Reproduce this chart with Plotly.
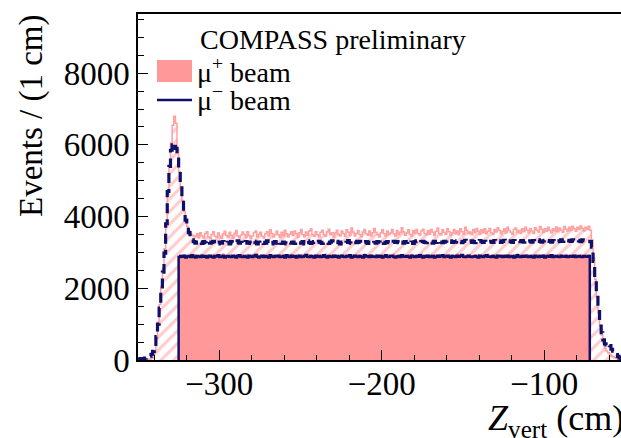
import plotly.graph_objects as go

BIN_WIDTH = 1  # cm per bin

# ---------------- data (events per 1 cm bin) ----------------
# mu+ beam, all vertices (hatched outline)
mu_plus_all_start = -345
mu_plus_all_rise = [10, 20, 30, 40, 60, 200, 600, 1050, 1550, 2050, 2550, 3100, 3800, 4600, 5400,
                    6050, 6550, 6800, 6600, 5900, 5250, 4800, 4450, 4150, 3900, 3720, 3600, 3530, 3480, 3460]
mu_plus_all_plateau = [
    3440, 3520, 3400, 3550, 3460, 3400, 3530, 3580, 3430, 3380, 3500, 3580, 3450, 3410, 3540, 3460, 3390, 3520, 3590, 3470,
    3420, 3560, 3470, 3390, 3530, 3610, 3460, 3400, 3480, 3570, 3500, 3420, 3580, 3470, 3380, 3460, 3550, 3600, 3440, 3510,
    3560, 3450, 3400, 3520, 3580, 3460, 3630, 3530, 3430, 3500, 3590, 3490, 3420, 3560, 3460, 3620, 3520, 3440, 3510, 3580,
    3470, 3600, 3520, 3420, 3550, 3640, 3490, 3440, 3570, 3480, 3600, 3660, 3500, 3450, 3580, 3490, 3430, 3560, 3620, 3500,
    3450, 3580, 3650, 3490, 3550, 3430, 3540, 3620, 3510, 3460, 3600, 3530, 3450, 3630, 3560, 3480, 3680, 3570, 3460, 3530,
    3610, 3500, 3440, 3570, 3640, 3520, 3480, 3600, 3460, 3550, 3670, 3560, 3500, 3430, 3550, 3630, 3520, 3460, 3600, 3500,
    3540, 3640, 3520, 3460, 3610, 3500, 3560, 3690, 3580, 3480, 3540, 3630, 3500, 3460, 3610, 3540, 3640, 3520, 3480, 3600,
    3650, 3530, 3490, 3610, 3510, 3640, 3560, 3470, 3590, 3680, 3530, 3490, 3630, 3560, 3510, 3660, 3580, 3470, 3550, 3640,
    3520, 3600, 3490, 3660, 3580, 3510, 3700, 3620, 3520, 3570, 3490, 3640, 3550, 3670, 3590, 3510, 3630, 3550, 3660, 3520,
    3590, 3670, 3540, 3500, 3640, 3570, 3690, 3610, 3520, 3590, 3660, 3540, 3700, 3610, 3560, 3510, 3640, 3680, 3560, 3610,
    3530, 3660, 3580, 3700, 3620, 3550, 3670, 3600, 3530, 3690, 3620, 3570, 3720, 3640, 3560, 3660, 3590, 3700, 3620, 3550,
    3660, 3600, 3710, 3580, 3680, 3620, 3560, 3720, 3650, 3590, 3700, 3620, 3730, 3660, 3590, 3700, 3640, 3740, 3670, 3600,
    3700, 3640, 3730, 3620]
mu_plus_all_tail = [3350, 2850, 2250, 1750, 1300, 950, 700, 480, 330, 250, 200, 160, 120, 90, 60, 40, 20]

# mu- beam, all vertices (dashed)
mu_minus_all_start = -350
mu_minus_all_rise = [30, 30, 40, 40, 50, 60, 80, 110, 160, 240, 380, 650, 1000, 1450, 1950, 2450, 2980,
                     3800, 4700, 5400, 5850, 6000, 6050, 5900, 5650, 5250, 4900, 4500, 4150, 3900, 3700,
                     3550, 3430, 3350, 3300]
mu_minus_all_plateau = [
    3260, 3290, 3240, 3280, 3250, 3300, 3270, 3230, 3290, 3260, 3280, 3310, 3250, 3270, 3240, 3290, 3260, 3300, 3270, 3250,
    3280, 3240, 3300, 3270, 3250, 3290, 3320, 3260, 3280, 3240, 3270, 3300, 3260, 3290, 3250, 3280, 3310, 3270, 3240, 3290,
    3270, 3300, 3250, 3280, 3320, 3260, 3290, 3240, 3280, 3300, 3260, 3270, 3310, 3250, 3290, 3270, 3240, 3300, 3280, 3260,
    3290, 3250, 3280, 3310, 3270, 3260, 3300, 3240, 3290, 3320, 3270, 3250, 3280, 3300, 3260, 3290, 3310, 3270, 3250, 3280,
    3300, 3270, 3250, 3290, 3320, 3260, 3280, 3310, 3270, 3240, 3290, 3300, 3260, 3280, 3330, 3270, 3250, 3290, 3310, 3270,
    3280, 3310, 3260, 3290, 3270, 3300, 3250, 3290, 3320, 3270, 3280, 3260, 3300, 3290, 3270, 3310, 3250, 3280, 3300, 3270,
    3290, 3260, 3310, 3280, 3300, 3270, 3330, 3290, 3260, 3300, 3280, 3310, 3270, 3290, 3250, 3300, 3320, 3280, 3270, 3300,
    3310, 3280, 3270, 3300, 3320, 3290, 3260, 3310, 3280, 3300, 3330, 3290, 3270, 3310, 3290, 3260, 3300, 3320, 3280, 3300,
    3290, 3320, 3280, 3300, 3270, 3310, 3340, 3290, 3300, 3280, 3320, 3300, 3270, 3310, 3290, 3330, 3300, 3280, 3310, 3290,
    3320, 3290, 3310, 3280, 3330, 3300, 3290, 3320, 3280, 3310, 3340, 3300, 3290, 3320, 3300, 3280, 3330, 3310, 3290, 3320,
    3300, 3330, 3290, 3310, 3340, 3300, 3320, 3290, 3330, 3310, 3300, 3350, 3310, 3290, 3320, 3340, 3300, 3330, 3310, 3290,
    3330, 3310, 3340, 3300, 3320, 3350, 3310, 3330, 3300, 3340, 3320, 3310, 3350, 3330, 3310, 3340, 3320, 3300, 3350, 3330,
    3320, 3340, 3310, 3300]
mu_minus_all_tail = [3150, 2750, 2250, 1800, 1400, 1050, 760, 560, 450, 420, 460, 400, 300, 250, 200, 150, 100, 60]

# mu+ beam, target region (filled)
mu_plus_cut_start = -325
mu_plus_cut = [
    2900, 2930, 2910, 2940, 2920, 2890, 2930, 2950, 2910, 2920, 2940, 2900, 2930, 2910, 2950, 2920, 2890, 2930, 2940, 2910,
    2920, 2950, 2900, 2930, 2910, 2940, 2920, 2960, 2900, 2930, 2920, 2940, 2910, 2890, 2930, 2950, 2920, 2910, 2940, 2930,
    2910, 2930, 2950, 2920, 2900, 2940, 2930, 2910, 2960, 2920, 2930, 2900, 2940, 2920, 2910, 2950, 2930, 2900, 2920, 2940,
    2930, 2910, 2940, 2900, 2950, 2920, 2930, 2910, 2940, 2960, 2920, 2900, 2930, 2950, 2910, 2920, 2940, 2930, 2900, 2950,
    2920, 2940, 2910, 2930, 2900, 2950, 2920, 2940, 2930, 2910, 2960, 2920, 2930, 2900, 2940, 2920, 2950, 2910, 2930, 2920,
    2940, 2910, 2930, 2950, 2920, 2900, 2940, 2930, 2910, 2950, 2920, 2940, 2900, 2930, 2960, 2920, 2910, 2940, 2930, 2900,
    2930, 2950, 2920, 2910, 2940, 2930, 2900, 2950, 2920, 2940, 2910, 2930, 2960, 2920, 2900, 2940, 2930, 2910, 2950, 2920,
    2910, 2940, 2930, 2950, 2900, 2920, 2940, 2910, 2930, 2960, 2920, 2900, 2940, 2930, 2910, 2950, 2920, 2940, 2900, 2930,
    2950, 2920, 2910, 2940, 2930, 2900, 2950, 2920, 2940, 2910, 2930, 2960, 2920, 2940, 2900, 2930, 2910, 2950, 2920, 2940,
    2920, 2900, 2940, 2930, 2950, 2910, 2920, 2940, 2900, 2930, 2960, 2920, 2910, 2940, 2930, 2950, 2900, 2920, 2940, 2910,
    2940, 2930, 2910, 2950, 2920, 2900, 2940, 2930, 2960, 2910, 2920, 2940, 2900, 2930, 2950, 2920, 2910, 2940, 2930, 2920,
    2910, 2950, 2930, 2920, 2940, 2900, 2930, 2960, 2920, 2910, 2940, 2930, 2900, 2950, 2920, 2940, 2910, 2930, 2950, 2920,
    2930, 2910, 2940, 2920, 2950, 2900, 2930, 2940, 2910, 2930, 2950, 2920, 2940]

# mu- beam, target region (solid line)
mu_minus_cut_start = -325
mu_minus_cut = [
    2870, 2900, 2880, 2910, 2860, 2890, 2900, 2870, 2920, 2880, 2860, 2900, 2890, 2870, 2910, 2880, 2900, 2860, 2890, 2910,
    2880, 2860, 2900, 2890, 2920, 2870, 2880, 2910, 2860, 2890, 2900, 2880, 2870, 2910, 2890, 2860, 2900, 2920, 2880, 2870,
    2900, 2880, 2860, 2910, 2890, 2870, 2900, 2930, 2880, 2860, 2890, 2910, 2870, 2900, 2880, 2860, 2920, 2890, 2870, 2900,
    2890, 2910, 2870, 2880, 2900, 2860, 2920, 2890, 2870, 2910, 2880, 2900, 2860, 2890, 2910, 2870, 2880, 2900, 2930, 2880,
    2870, 2900, 2890, 2860, 2910, 2880, 2900, 2870, 2890, 2920, 2880, 2860, 2900, 2890, 2870, 2910, 2880, 2900, 2860, 2890,
    2910, 2880, 2870, 2900, 2890, 2920, 2860, 2880, 2910, 2890, 2870, 2900, 2880, 2860, 2920, 2890, 2900, 2870, 2910, 2880,
    2890, 2870, 2910, 2880, 2900, 2860, 2890, 2920, 2880, 2870, 2900, 2910, 2880, 2860, 2890, 2900, 2870, 2920, 2890, 2880,
    2900, 2880, 2860, 2910, 2890, 2870, 2900, 2880, 2920, 2890, 2860, 2900, 2880, 2910, 2870, 2890, 2900, 2860, 2880, 2910,
    2880, 2900, 2920, 2870, 2890, 2910, 2880, 2860, 2900, 2890, 2870, 2910, 2880, 2900, 2930, 2880, 2870, 2890, 2910, 2880,
    2870, 2890, 2900, 2880, 2860, 2910, 2890, 2870, 2900, 2920, 2880, 2890, 2870, 2900, 2880, 2860, 2910, 2890, 2900, 2870,
    2900, 2880, 2910, 2870, 2890, 2900, 2860, 2880, 2920, 2890, 2870, 2900, 2880, 2910, 2890, 2870, 2900, 2880, 2860, 2910,
    2890, 2870, 2900, 2880, 2910, 2860, 2890, 2900, 2880, 2920, 2870, 2890, 2900, 2880, 2870, 2910, 2890, 2880, 2900, 2870,
    2890, 2900, 2880, 2910, 2870, 2890, 2900, 2880, 2870, 2900, 2890, 2880, 2900]

x_tick_values = [-300, -200, -100]
y_tick_values = [0, 2000, 4000, 6000, 8000]

legend_header = "COMPASS preliminary"
legend_plus = "\u03bc<sup>+</sup> beam"
legend_minus = "\u03bc<sup>\u2212</sup> beam"
x_title = "<i>Z</i><sub>vert</sub> (cm)"
y_title = "Events / (1 cm)"

mu_plus_all = mu_plus_all_rise + mu_plus_all_plateau + mu_plus_all_tail
mu_minus_all = mu_minus_all_rise + mu_minus_all_plateau + mu_minus_all_tail

# ---------------- styling ----------------
W, H = 621, 438
ML, MR, MT, MB = 138, 0, 14, 78
PW, PH = W - ML - MR, H - MT - MB
FONT = "Liberation Serif"
PINK = "#ff9999"
PINK_LINE = "#ffa0a0"
NAVY = "#10106a"


def step_xy(start, values):
    edges = [start + i * BIN_WIDTH for i in range(len(values) + 1)]
    xs = [edges[0]] + edges + [edges[-1]]
    ys = [0] + list(values) + [values[-1], 0]
    return xs, ys


def px(xp):
    return (xp - ML) / PW


def py(yp):
    return (H - MB - yp) / PH


fig = go.Figure()

x, y = step_xy(mu_plus_all_start, mu_plus_all)
fig.add_trace(go.Scatter(x=x, y=y, mode="lines", line=dict(color=PINK_LINE, width=1.5, shape="hv"),
                         fill="toself", fillcolor="rgba(255,255,255,0)",
                         fillpattern=dict(shape="/", fgcolor=PINK, bgcolor="rgba(255,255,255,0)",
                                          size=9, solidity=0.35),
                         showlegend=False, hoverinfo="skip"))

x, y = step_xy(mu_plus_cut_start, mu_plus_cut)
fig.add_trace(go.Scatter(x=x, y=y, mode="lines", line=dict(color=PINK, width=1, shape="hv"),
                         fill="toself", fillcolor=PINK, showlegend=False, hoverinfo="skip"))

x, y = step_xy(mu_minus_all_start, mu_minus_all)
fig.add_trace(go.Scatter(x=x, y=y, mode="lines", line=dict(color=NAVY, width=3.2, shape="hv", dash="10px,6px"),
                         showlegend=False, hoverinfo="skip"))

x, y = step_xy(mu_minus_cut_start, mu_minus_cut)
fig.add_trace(go.Scatter(x=x, y=y, mode="lines", line=dict(color=NAVY, width=2.5, shape="hv"),
                         showlegend=False, hoverinfo="skip"))

axis_common = dict(showline=True, linecolor="black", linewidth=1.5, showgrid=False, zeroline=False,
                   ticks="inside", ticklen=10, tickwidth=1.2, tickcolor="black",
                   tickfont=dict(family=FONT, size=33, color="black"), automargin=False)

fig.update_xaxes(range=[-350, -52.8], tickvals=x_tick_values, mirror=True, ticklabelstandoff=-6,
                 minor=dict(dtick=20, tick0=0, ticks="inside", ticklen=5, tickwidth=1.2, tickcolor="black",
                            showgrid=False),
                 **axis_common)
fig.update_yaxes(range=[0, 9650], tickvals=y_tick_values, ticklabelstandoff=0,
                 minor=dict(dtick=500, tick0=0, ticks="inside", ticklen=6, tickwidth=1.2, tickcolor="black",
                            showgrid=False),
                 **axis_common)

annotations = [
    dict(text=y_title, x=px(31), y=py(116), textangle=-90, xanchor="center", yanchor="middle",
         font=dict(family=FONT, size=33, color="black")),
    dict(text=x_title, x=px(626), y=py(396), xanchor="right", yanchor="top",
         font=dict(family=FONT, size=36, color="black")),
    dict(text=legend_header, x=px(198), y=py(39), xanchor="left", yanchor="middle",
         font=dict(family=FONT, size=28, color="black")),
    dict(text=legend_plus, x=px(195), y=py(70), xanchor="left", yanchor="middle",
         font=dict(family=FONT, size=28, color="black")),
    dict(text=legend_minus, x=px(195), y=py(98), xanchor="left", yanchor="middle",
         font=dict(family=FONT, size=28, color="black")),
]
for a in annotations:
    a.update(xref="paper", yref="paper", showarrow=False)

shapes = [
    dict(type="rect", xref="paper", yref="paper", x0=px(157), x1=px(192), y0=py(60), y1=py(82),
         fillcolor=PINK, line=dict(width=0)),
    dict(type="line", xref="paper", yref="paper", x0=px(157), x1=px(192), y0=py(100), y1=py(100),
         line=dict(color=NAVY, width=2.5)),
]

fig.update_layout(width=W, height=H, margin=dict(l=ML, r=MR, t=MT, b=MB, pad=0),
                  paper_bgcolor="white", plot_bgcolor="white", showlegend=False, hovermode=False,
                  annotations=annotations, shapes=shapes)

fig.write_html("out.html", config={"displayModeBar": False},
               post_script="document.body.style.margin='0';document.body.style.overflow='hidden';")
